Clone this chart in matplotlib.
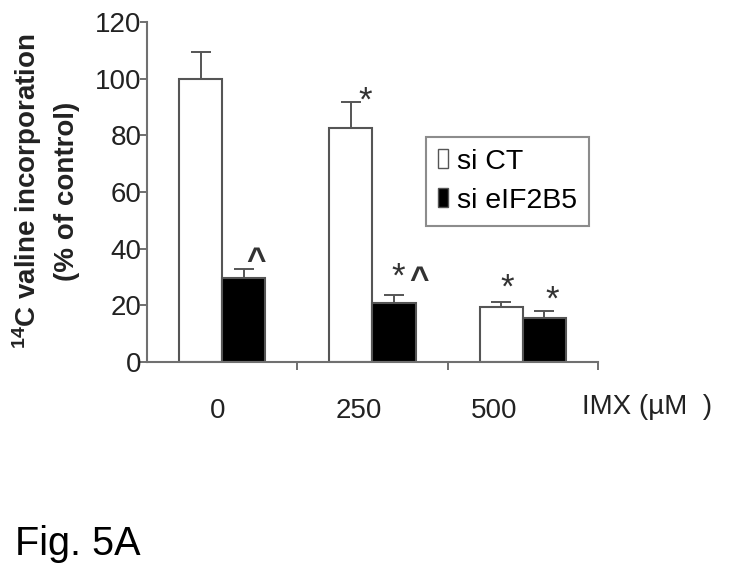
import numpy as np
import matplotlib
matplotlib.use("Agg")
import matplotlib.pyplot as plt
from matplotlib.patches import Patch

plt.rcParams['font.family'] = ['Liberation Sans', 'DejaVu Sans']
plt.rcParams['mathtext.fontset'] = 'custom'
plt.rcParams['mathtext.rm'] = 'Liberation Sans'
plt.rcParams['mathtext.bf'] = 'Liberation Sans:bold'

doses = ['0', '250', '500']
si_ct = [100, 82.7, 19.4]
si_ct_err = [9.5, 9.0, 1.8]
si_eif = [29.7, 20.8, 15.5]
si_eif_err = [3.2, 2.9, 2.6]

# significance marks: (group, series, text, dx px, dy px above error top)
marks = [
    (1, 0, '*', 14, 12),
    (2, 0, '*', 6, 25),
    (2, 1, '*', 8, 22),
    (0, 1, '^', 12, 16),
    (1, 1, '*', 4, 29),
    (1, 1, '^', 25, 23),
]

grey = '#707070'
edge = '#555555'

fig = plt.figure(figsize=(7.29, 5.75), dpi=100)
ax = fig.add_axes([0.2016, 0.3704, 0.6187, 0.5913])

x = np.arange(len(doses))
w = 0.287
ekw = dict(ecolor=edge, elinewidth=1.4, capsize=7, capthick=1.4)
ax.bar(x - w / 2, si_ct, w, color='white', edgecolor=edge, linewidth=1.5,
       yerr=[np.zeros(3), si_ct_err], error_kw=ekw)
ax.bar(x + w / 2, si_eif, w, color='black', edgecolor=edge, linewidth=1.5,
       yerr=[np.zeros(3), si_eif_err], error_kw=ekw)

vals = [si_ct, si_eif]
errs = [si_ct_err, si_eif_err]
for g, s, t, dx, dy in marks:
    bx = x[g] + (s - 0.5) * w
    top = vals[s][g] + errs[s][g]
    if t == '*':
        fs, fw, c = 25, 'normal', 0.59
    else:
        fs, fw, c = 24, 'bold', 0.52
    # glyph centre sits c*em above baseline
    base_dy = dy - c * fs / 0.72
    ax.annotate(t, (bx, top), xytext=(dx * 0.72, base_dy * 0.72), textcoords='offset points',
                ha='center', va='baseline', fontsize=fs, fontweight=fw, color='#333333')

ax.set_xlim(-0.5, 2.5)
ax.set_ylim(0, 120)
ax.set_yticks(range(0, 121, 20))
ax.set_xticks(x + np.array([-0.03, -0.09, -0.19]))
ax.set_xticklabels(doses)
ax.set_xticks([0.5, 1.5, 2.5], minor=True)
ax.tick_params(axis='x', which='major', length=0, pad=26, labelsize=20, labelcolor='#222222')
ax.tick_params(axis='x', which='minor', length=6, width=1.4, color=grey, direction='out')
ax.tick_params(axis='y', length=5, width=1.4, color=grey, labelsize=20, labelcolor='#222222', pad=-1)

for s in ['top', 'right']:
    ax.spines[s].set_visible(False)
for s in ['left', 'bottom']:
    ax.spines[s].set_color(grey)
    ax.spines[s].set_linewidth(1.5)

fig.text(0.037, 0.668, r'$\mathbf{^{14}}$C valine incorporation', rotation=90, fontsize=20,
         fontweight='bold', color='#222222', ha='center', va='center')
fig.text(0.092, 0.668, '(% of control)', rotation=90, fontsize=20,
         fontweight='bold', color='#222222', ha='center', va='center')

handles = [Patch(facecolor='white', edgecolor=edge, label='si CT'),
           Patch(facecolor='black', edgecolor=edge, label='si eIF2B5')]
leg = ax.legend(handles=handles, loc='upper left', bbox_to_anchor=(0.619, 0.662),
                borderaxespad=0, fontsize=20.5, frameon=True, fancybox=False,
                handlelength=0.36, handleheight=0.65, handletextpad=0.3,
                borderpad=0.42, labelspacing=0.45)
leg.get_frame().set_edgecolor(grey)
leg.get_frame().set_linewidth(1.5)

fig.text(0.798, 0.292, 'IMX (\u00b5M  )', fontsize=20, va='center', ha='left', color='#222222')
fig.text(0.02, 0.035, 'Fig. 5A', fontsize=28.5, va='baseline', ha='left')

fig.savefig('out.png', dpi=100)
